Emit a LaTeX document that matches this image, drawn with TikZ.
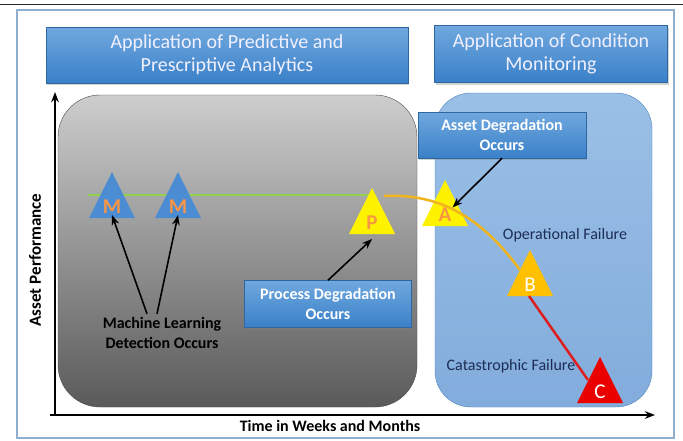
\documentclass[tikz,border=0pt]{standalone}
\usepackage{fontspec}
\setmainfont{Carlito}
\usetikzlibrary{arrows.meta,positioning,shadows}

\definecolor{titletop}{RGB}{112,168,222}
\definecolor{titlebot}{RGB}{58,128,200}
\definecolor{frameline}{RGB}{140,175,205}
\definecolor{greytop}{RGB}{205,205,205}
\definecolor{greybot}{RGB}{90,90,90}
\definecolor{cmtop}{RGB}{155,192,230}
\definecolor{cmmid}{RGB}{88,145,208}
\definecolor{cmbot}{RGB}{130,172,220}
\definecolor{triblue}{RGB}{75,140,210}
\definecolor{letterorange}{RGB}{248,150,70}
\definecolor{amber}{RGB}{255,192,0}
\definecolor{curveorange}{RGB}{240,180,30}
\definecolor{failred}{RGB}{220,30,30}
\definecolor{trired}{RGB}{235,0,0}
\definecolor{navytext}{RGB}{30,45,85}
\definecolor{lime}{RGB}{146,208,80}

% triangle marker: name, apex x, apex y, fill, letter style, letter
\newcommand{\marker}[6]{%
  \fill[#4] (#2,#3) -- ++(-23,46) -- ++(46,0) -- cycle;
  \node[inner sep=1pt, #5] (#1) at (#2,#3+35) {#6};
}

\begin{document}
\begin{tikzpicture}[x=1pt,y=-1pt,>=Stealth,
  titlebox/.style={draw=titlebot!80!black, top color=titletop, bottom color=titlebot,
    text=white!94!blue, align=center, font=\fontsize{20}{23}\selectfont,
    drop shadow={opacity=.35,shadow xshift=1pt,shadow yshift=-2pt}},
  notebox/.style={draw=titlebot!80!black, top color=titletop, bottom color=titlebot,
    text=white, align=center, font=\bfseries\fontsize{16}{20}\selectfont,
    minimum width=168, minimum height=46,
    drop shadow={opacity=.35,shadow xshift=1pt,shadow yshift=-2pt}},
  plain/.style={align=center, font=\fontsize{16}{20}\selectfont},
  pointer/.style={->, line width=1.6pt, black},
  mletter/.style={text=letterorange, font=\bfseries\fontsize{21}{21}\selectfont},
  wletter/.style={text=white, font=\fontsize{21}{21}\selectfont}]
\useasboundingbox (0,0) rectangle (683,440);

% frame
\fill[white] (0,0) rectangle (683,440);
\draw[black!85, line width=0.8pt] (0,4) -- (683,4);
\draw[frameline, line width=1.2pt] (17,10) rectangle (674,438);

% headings
\node[titlebox, minimum width=362, minimum height=56] (predictive) at (227,55)
  {Application of Predictive and\\Prescriptive Analytics};
\node[titlebox, minimum width=233, minimum height=57] (monitoring) at (551,54)
  {Application of Condition\\Monitoring};

% regions
\draw[black!70, top color=greytop, bottom color=greybot, rounded corners=42]
  (58,95) rectangle (417,407);
\draw[cmmid!90!black, top color=cmtop, middle color=cmmid, bottom color=cmbot,
  rounded corners=36] (435,93) rectangle (652,407);

% axes
\coordinate (origin) at (55,415);
\draw[line width=1.6pt, ->] (origin) -- (55,92);
\draw[line width=1.6pt, ->] (50,415) -- (655,415);
\node[font=\bfseries\fontsize{17}{20}\selectfont, rotate=90] (yaxis) at (35,260) {Asset Performance};
\node[font=\bfseries\fontsize{16}{20}\selectfont] (xaxis) at (330,426) {Time in Weeks and Months};

% performance line
\coordinate (lstart) at (88,195);
\coordinate (lend) at (370,195);
\draw[lime, line width=2.5pt] (lstart) -- (lend);

% markers
\marker{M1}{112}{172}{triblue}{mletter}{M}
\marker{M2}{178}{172}{triblue}{mletter}{M}
\marker{P}{372}{188}{yellow}{mletter}{P}
\marker{A}{445}{180}{yellow}{mletter}{A}
\marker{B}{530}{250}{amber}{wletter}{B}
\marker{C}{600}{357}{trired}{wletter}{C}

% degradation curve
\coordinate (pexit) at (384,196);
\coordinate (bentry) at (520,270);
\coordinate (bexit) at (529,296);
\coordinate (centry) at (588,380);
\draw[curveorange, line width=2.5pt] (pexit) .. controls (440,193) and (482,218) .. (bentry);
\draw[failred, line width=2.5pt] (bexit) -- (centry);

% labels
\node[notebox] (asset) at (502,135) {Asset Degradation\\Occurs};
\node[notebox, minimum width=167, minimum height=47] (process) at (328,304) {Process Degradation\\Occurs};
\node[plain, font=\bfseries\fontsize{16}{20}\selectfont] (ml) at (162,333) {Machine Learning\\Detection Occurs};
\node[plain, text=navytext] (operational) at (565,235) {Operational Failure};
\node[plain, text=navytext] (catastrophic) at (511,366) {Catastrophic Failure};

% pointers
\draw[pointer] ([xshift=-15pt]ml.north) -- (M1.south);
\draw[pointer] ([xshift=-5pt]ml.north) -- (M2.south);
\draw[pointer] (process.north) -- ([yshift=-8pt]P.south);
\draw[pointer] (asset.south) -- (A);
\end{tikzpicture}
\end{document}
